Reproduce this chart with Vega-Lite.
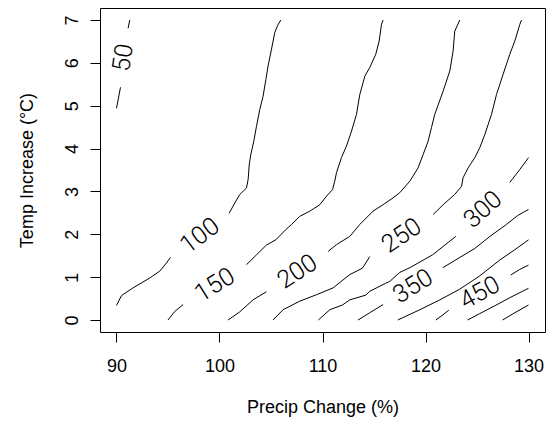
{
  "$schema": "https://vega.github.io/schema/vega-lite/v6.json",
  "width": 445,
  "height": 324,
  "autosize": "none",
  "padding": {"left": 100, "top": 8, "right": 7, "bottom": 91},
  "config": {"view": {"stroke": "#000", "strokeWidth": 1}, "font": "Liberation Sans"},
  "datasets": {
    "lines": [
      {"c": "50a", "x": 90.0, "y": 4.94}, {"c": "50a", "x": 90.17, "y": 5.15}, {"c": "50a", "x": 90.39, "y": 5.43},
      {"c": "50b", "x": 91.13, "y": 6.81}, {"c": "50b", "x": 91.29, "y": 7.0},
      {"c": "100a", "x": 90.0, "y": 0.34}, {"c": "100a", "x": 90.49, "y": 0.57}, {"c": "100a", "x": 91.61, "y": 0.75}, {"c": "100a", "x": 93.23, "y": 0.98}, {"c": "100a", "x": 94.2, "y": 1.14}, {"c": "100a", "x": 94.85, "y": 1.33}, {"c": "100a", "x": 95.24, "y": 1.46},
      {"c": "100b", "x": 100.93, "y": 2.49}, {"c": "100b", "x": 101.49, "y": 2.73}, {"c": "100b", "x": 101.97, "y": 2.93}, {"c": "100b", "x": 102.62, "y": 3.08}, {"c": "100b", "x": 102.78, "y": 3.28}, {"c": "100b", "x": 102.89, "y": 3.63}, {"c": "100b", "x": 103.04, "y": 3.86}, {"c": "100b", "x": 103.33, "y": 4.17}, {"c": "100b", "x": 103.59, "y": 4.52}, {"c": "100b", "x": 103.91, "y": 4.91}, {"c": "100b", "x": 104.23, "y": 5.22}, {"c": "100b", "x": 104.5, "y": 5.61}, {"c": "100b", "x": 104.72, "y": 5.93}, {"c": "100b", "x": 105.05, "y": 6.32}, {"c": "100b", "x": 105.37, "y": 6.71}, {"c": "100b", "x": 105.66, "y": 6.88}, {"c": "100b", "x": 105.95, "y": 7.0},
      {"c": "150a", "x": 95.0, "y": 0.0}, {"c": "150a", "x": 95.66, "y": 0.2}, {"c": "150a", "x": 96.47, "y": 0.36},
      {"c": "150b", "x": 102.62, "y": 1.29}, {"c": "150b", "x": 103.59, "y": 1.52}, {"c": "150b", "x": 104.56, "y": 1.75}, {"c": "150b", "x": 105.47, "y": 1.87}, {"c": "150b", "x": 106.44, "y": 2.11}, {"c": "150b", "x": 106.99, "y": 2.23}, {"c": "150b", "x": 107.8, "y": 2.42}, {"c": "150b", "x": 108.77, "y": 2.54}, {"c": "150b", "x": 109.74, "y": 2.69}, {"c": "150b", "x": 110.39, "y": 2.89}, {"c": "150b", "x": 110.97, "y": 3.04}, {"c": "150b", "x": 111.19, "y": 3.24}, {"c": "150b", "x": 111.36, "y": 3.44}, {"c": "150b", "x": 111.84, "y": 3.79}, {"c": "150b", "x": 112.33, "y": 4.06}, {"c": "150b", "x": 112.82, "y": 4.41}, {"c": "150b", "x": 113.3, "y": 4.8}, {"c": "150b", "x": 113.62, "y": 5.26}, {"c": "150b", "x": 114.11, "y": 5.69}, {"c": "150b", "x": 114.59, "y": 5.89}, {"c": "150b", "x": 115.17, "y": 6.2}, {"c": "150b", "x": 115.5, "y": 6.51}, {"c": "150b", "x": 115.73, "y": 6.9}, {"c": "150b", "x": 115.88, "y": 7.0},
      {"c": "200a", "x": 100.83, "y": 0.0}, {"c": "200a", "x": 101.97, "y": 0.19}, {"c": "200a", "x": 103.26, "y": 0.47}, {"c": "200a", "x": 104.56, "y": 0.66},
      {"c": "200b", "x": 110.54, "y": 1.6}, {"c": "200b", "x": 111.36, "y": 1.76}, {"c": "200b", "x": 112.65, "y": 1.95}, {"c": "200b", "x": 113.62, "y": 2.23}, {"c": "200b", "x": 114.91, "y": 2.54}, {"c": "200b", "x": 115.88, "y": 2.69}, {"c": "200b", "x": 116.85, "y": 2.85}, {"c": "200b", "x": 117.5, "y": 2.97}, {"c": "200b", "x": 118.48, "y": 3.24}, {"c": "200b", "x": 119.28, "y": 3.55}, {"c": "200b", "x": 119.77, "y": 3.86}, {"c": "200b", "x": 120.25, "y": 4.17}, {"c": "200b", "x": 120.58, "y": 4.49}, {"c": "200b", "x": 120.9, "y": 4.8}, {"c": "200b", "x": 121.71, "y": 5.34}, {"c": "200b", "x": 122.36, "y": 5.81}, {"c": "200b", "x": 122.68, "y": 6.28}, {"c": "200b", "x": 122.84, "y": 6.74}, {"c": "200b", "x": 123.33, "y": 7.0},
      {"c": "250a", "x": 105.2, "y": 0.0}, {"c": "250a", "x": 106.17, "y": 0.24}, {"c": "250a", "x": 107.8, "y": 0.44}, {"c": "250a", "x": 109.42, "y": 0.59}, {"c": "250a", "x": 111.03, "y": 0.75}, {"c": "250a", "x": 112.65, "y": 1.06}, {"c": "250a", "x": 113.88, "y": 1.21}, {"c": "250a", "x": 114.59, "y": 1.48},
      {"c": "250b", "x": 120.74, "y": 2.46}, {"c": "250b", "x": 121.71, "y": 2.69}, {"c": "250b", "x": 122.84, "y": 2.93}, {"c": "250b", "x": 123.5, "y": 3.12}, {"c": "250b", "x": 123.65, "y": 3.32}, {"c": "250b", "x": 124.14, "y": 3.55}, {"c": "250b", "x": 124.79, "y": 3.79}, {"c": "250b", "x": 125.27, "y": 4.02}, {"c": "250b", "x": 125.76, "y": 4.33}, {"c": "250b", "x": 126.41, "y": 4.8}, {"c": "250b", "x": 126.89, "y": 5.26}, {"c": "250b", "x": 127.53, "y": 5.73}, {"c": "250b", "x": 128.18, "y": 6.2}, {"c": "250b", "x": 128.67, "y": 6.51}, {"c": "250b", "x": 129.16, "y": 6.9}, {"c": "250b", "x": 129.32, "y": 7.0},
      {"c": "300a", "x": 109.6, "y": 0.0}, {"c": "300a", "x": 110.71, "y": 0.24}, {"c": "300a", "x": 111.94, "y": 0.35}, {"c": "300a", "x": 112.65, "y": 0.47}, {"c": "300a", "x": 114.2, "y": 0.58}, {"c": "300a", "x": 114.59, "y": 0.67}, {"c": "300a", "x": 116.15, "y": 0.86}, {"c": "300a", "x": 116.53, "y": 0.9}, {"c": "300a", "x": 117.5, "y": 1.11}, {"c": "300a", "x": 118.48, "y": 1.22}, {"c": "300a", "x": 120.68, "y": 1.52}, {"c": "300a", "x": 122.94, "y": 1.95},
      {"c": "300b", "x": 128.18, "y": 3.21}, {"c": "300b", "x": 129.15, "y": 3.51}, {"c": "300b", "x": 130.0, "y": 3.79},
      {"c": "350a", "x": 113.45, "y": 0.0}, {"c": "350a", "x": 114.59, "y": 0.17}, {"c": "350a", "x": 115.88, "y": 0.36},
      {"c": "350b", "x": 121.68, "y": 1.22}, {"c": "350b", "x": 123.33, "y": 1.46}, {"c": "350b", "x": 124.79, "y": 1.67}, {"c": "350b", "x": 126.25, "y": 1.95}, {"c": "350b", "x": 127.86, "y": 2.23}, {"c": "350b", "x": 128.96, "y": 2.44}, {"c": "350b", "x": 130.0, "y": 2.58},
      {"c": "400", "x": 117.31, "y": 0.0}, {"c": "400", "x": 119.45, "y": 0.24}, {"c": "400", "x": 121.39, "y": 0.47}, {"c": "400", "x": 123.33, "y": 0.72}, {"c": "400", "x": 125.27, "y": 1.03}, {"c": "400", "x": 127.21, "y": 1.4}, {"c": "400", "x": 128.67, "y": 1.64}, {"c": "400", "x": 130.0, "y": 1.87},
      {"c": "450a", "x": 121.0, "y": 0.0}, {"c": "450a", "x": 121.58, "y": 0.1}, {"c": "450a", "x": 122.26, "y": 0.23},
      {"c": "450b", "x": 128.28, "y": 1.05}, {"c": "450b", "x": 129.15, "y": 1.18}, {"c": "450b", "x": 130.0, "y": 1.28},
      {"c": "500", "x": 124.08, "y": 0.0}, {"c": "500", "x": 125.27, "y": 0.15}, {"c": "500", "x": 126.72, "y": 0.33}, {"c": "500", "x": 128.18, "y": 0.52}, {"c": "500", "x": 130.0, "y": 0.74},
      {"c": "550", "x": 127.48, "y": 0.0}, {"c": "550", "x": 128.67, "y": 0.17}, {"c": "550", "x": 130.0, "y": 0.35}
    ],
    "labels": [
      {"t": "50", "x": 90.64, "y": 6.12},
      {"t": "100", "x": 98.09, "y": 1.97},
      {"t": "150", "x": 99.54, "y": 0.82},
      {"t": "200", "x": 107.55, "y": 1.13},
      {"t": "250", "x": 117.67, "y": 1.97},
      {"t": "300", "x": 125.56, "y": 2.58},
      {"t": "350", "x": 118.77, "y": 0.79},
      {"t": "450", "x": 125.27, "y": 0.64}
    ]
  },
  "encoding": {
    "x": {"field": "x", "type": "quantitative",
      "scale": {"domain": [88.4, 131.6], "nice": false, "zero": false},
      "axis": {"values": [90, 100, 110, 120, 130], "title": "Precip Change (%)", "domain": false, "grid": false,
        "tickSize": 10, "tickColor": "#000", "tickWidth": 1,
        "labelFont": "Liberation Sans", "labelFontSize": 18, "labelColor": "#000", "labelBaseline": "alphabetic", "labelPadding": 29, "labelFlush": false, "labelOverlap": false,
        "titleFont": "Liberation Sans", "titleFontSize": 18, "titleFontWeight": "normal", "titleColor": "#000", "titleBaseline": "alphabetic", "titleY": 80}},
    "y": {"field": "y", "type": "quantitative",
      "scale": {"domain": [-0.28, 7.28], "nice": false, "zero": false},
      "axis": {"values": [0, 1, 2, 3, 4, 5, 6, 7], "title": "Temp Increase (°C)", "domain": false, "grid": false,
        "tickSize": 10, "tickColor": "#000", "tickWidth": 1,
        "labelFont": "Liberation Sans", "labelFontSize": 18, "labelColor": "#000", "labelAngle": 270, "labelAlign": "center", "labelBaseline": "alphabetic", "labelPadding": 13, "labelFlush": false, "labelOverlap": false,
        "titleFont": "Liberation Sans", "titleFontSize": 18, "titleFontWeight": "normal", "titleColor": "#000", "titleAngle": 270, "titleAlign": "center", "titleBaseline": "alphabetic", "titleX": -68}}
  },
  "layer": [
    {"data": {"name": "lines"}, "mark": {"type": "line", "color": "#000", "strokeWidth": 1},
      "encoding": {"detail": {"field": "c"}, "order": {"value": null}}},
    {"data": {"name": "labels"}, "transform": [{"filter": "datum.t == '50'"}],
      "mark": {"type": "text", "angle": 278, "font": "Roboto", "fontWeight": 300, "fontSize": 25, "align": "center", "baseline": "middle", "color": "#000"},
      "encoding": {"text": {"field": "t"}}},
    {"data": {"name": "labels"}, "transform": [{"filter": "datum.t == '100'"}],
      "mark": {"type": "text", "angle": 323, "font": "Roboto", "fontWeight": 300, "fontSize": 25, "align": "center", "baseline": "middle", "color": "#000"},
      "encoding": {"text": {"field": "t"}}},
    {"data": {"name": "labels"}, "transform": [{"filter": "datum.t == '150'"}],
      "mark": {"type": "text", "angle": 328, "font": "Roboto", "fontWeight": 300, "fontSize": 25, "align": "center", "baseline": "middle", "color": "#000"},
      "encoding": {"text": {"field": "t"}}},
    {"data": {"name": "labels"}, "transform": [{"filter": "datum.t == '200'"}],
      "mark": {"type": "text", "angle": 327, "font": "Roboto", "fontWeight": 300, "fontSize": 25, "align": "center", "baseline": "middle", "color": "#000"},
      "encoding": {"text": {"field": "t"}}},
    {"data": {"name": "labels"}, "transform": [{"filter": "datum.t == '250'"}],
      "mark": {"type": "text", "angle": 326, "font": "Roboto", "fontWeight": 300, "fontSize": 25, "align": "center", "baseline": "middle", "color": "#000"},
      "encoding": {"text": {"field": "t"}}},
    {"data": {"name": "labels"}, "transform": [{"filter": "datum.t == '300'"}],
      "mark": {"type": "text", "angle": 318, "font": "Roboto", "fontWeight": 300, "fontSize": 25, "align": "center", "baseline": "middle", "color": "#000"},
      "encoding": {"text": {"field": "t"}}},
    {"data": {"name": "labels"}, "transform": [{"filter": "datum.t == '350'"}],
      "mark": {"type": "text", "angle": 328, "font": "Roboto", "fontWeight": 300, "fontSize": 25, "align": "center", "baseline": "middle", "color": "#000"},
      "encoding": {"text": {"field": "t"}}},
    {"data": {"name": "labels"}, "transform": [{"filter": "datum.t == '450'"}],
      "mark": {"type": "text", "angle": 331, "font": "Roboto", "fontWeight": 300, "fontSize": 25, "align": "center", "baseline": "middle", "color": "#000"},
      "encoding": {"text": {"field": "t"}}}
  ]
}
